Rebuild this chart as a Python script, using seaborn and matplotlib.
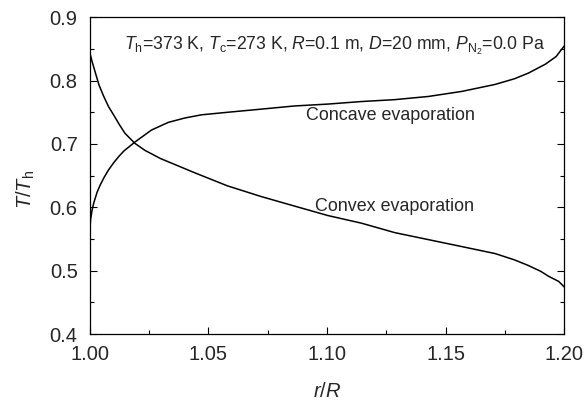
import numpy as np
import pandas as pd
import matplotlib
matplotlib.use("Agg")
import matplotlib.pyplot as plt
import seaborn as sns
from matplotlib.ticker import MultipleLocator, FormatStrFormatter

# Data
convex_x = [1.000, 1.0011, 1.0025, 1.0040, 1.0060, 1.0080, 1.0103, 1.0125, 1.0149, 1.0191, 1.0233,
            1.0299, 1.044, 1.058, 1.0723, 1.0863, 1.1004, 1.1145, 1.1286, 1.1427, 1.1568,
            1.1708, 1.1790, 1.1849, 1.1900, 1.1934, 1.1976, 1.2000]
convex_y = [0.846, 0.830, 0.812, 0.793, 0.775, 0.759, 0.745, 0.731, 0.717, 0.701, 0.690,
            0.677, 0.655, 0.634, 0.617, 0.602, 0.587, 0.575, 0.560, 0.549, 0.538,
            0.527, 0.517, 0.508, 0.499, 0.491, 0.483, 0.474]
concave_x = [1.000, 1.0005, 1.0011, 1.0018, 1.0032, 1.0046, 1.0061, 1.0080, 1.0103, 1.0125, 1.0145,
             1.0191, 1.0261, 1.0331, 1.0401, 1.0471, 1.058, 1.0723, 1.0863, 1.1004, 1.1145,
             1.1286, 1.1427, 1.1568, 1.1708, 1.1790, 1.1849, 1.1920, 1.1965, 1.2000]
concave_y = [0.560, 0.582, 0.596, 0.607, 0.624, 0.636, 0.647, 0.659, 0.671, 0.681, 0.689,
             0.703, 0.722, 0.734, 0.741, 0.746, 0.750, 0.755, 0.760, 0.763, 0.767,
             0.770, 0.775, 0.783, 0.794, 0.803, 0.812, 0.826, 0.838, 0.855]

sns.set_theme(style="ticks")
plt.rcParams['font.family'] = ['Liberation Sans', 'DejaVu Sans']
plt.rcParams['mathtext.fontset'] = 'custom'
plt.rcParams['mathtext.rm'] = 'Liberation Sans'
plt.rcParams['mathtext.it'] = 'Liberation Sans:italic'
plt.rcParams['mathtext.sf'] = 'Liberation Sans'

fig = plt.figure(figsize=(5.87, 4.05), dpi=100)
ax = fig.add_axes([0.1525, 0.1753, 0.809, 0.782])

df1 = pd.DataFrame({'x': convex_x, 'y': convex_y})
df2 = pd.DataFrame({'x': concave_x, 'y': concave_y})
sns.lineplot(data=df1, x='x', y='y', ax=ax, color='black', lw=1.1)
sns.lineplot(data=df2, x='x', y='y', ax=ax, color='black', lw=1.1)

ax.set_xlim(1.0, 1.2)
ax.set_ylim(0.4, 0.9)
ax.xaxis.set_major_locator(MultipleLocator(0.05))
ax.xaxis.set_minor_locator(MultipleLocator(0.025))
ax.yaxis.set_major_locator(MultipleLocator(0.1))
ax.yaxis.set_minor_locator(MultipleLocator(0.05))
ax.xaxis.set_major_formatter(FormatStrFormatter('%.2f'))
ax.yaxis.set_major_formatter(FormatStrFormatter('%.1f'))
ax.tick_params(axis='both', which='both', direction='in', labelsize=14.5, color='black', width=0.8)
ax.tick_params(axis='x', which='major', pad=8)
ax.tick_params(axis='y', which='major', pad=8.5)
ax.tick_params(which='major', length=5)
ax.tick_params(which='minor', length=3)
ax.tick_params(axis='y', which='both', right=True)
for s in ax.spines.values():
    s.set_color('black')
    s.set_linewidth(0.9)

ax.set_xlabel(r'$\it{r}$/$\it{R}$', fontsize=14.5)
ax.set_ylabel(r'$\it{T}$/$\it{T}_{\rm h}$', fontsize=14.5)
ax.xaxis.set_label_coords(0.5, -0.152)
ax.yaxis.set_label_coords(-0.11, 0.455)

ax.text(1.0145, 0.855,
        r'$\it{T}_{\rm h}$=373 K, $\it{T}_{\rm c}$=273 K, $\it{R}$=0.1 m, $\it{D}$=20 mm, $\it{P}_{\rm N_2}$=0.0 Pa',
        fontsize=12.7, va='center', ha='left')
ax.text(1.0913, 0.745, 'Concave evaporation', fontsize=12.9, va='center', ha='left')
ax.text(1.0948, 0.601, 'Convex evaporation', fontsize=12.9, va='center', ha='left')

fig.savefig('out.png', dpi=100)
